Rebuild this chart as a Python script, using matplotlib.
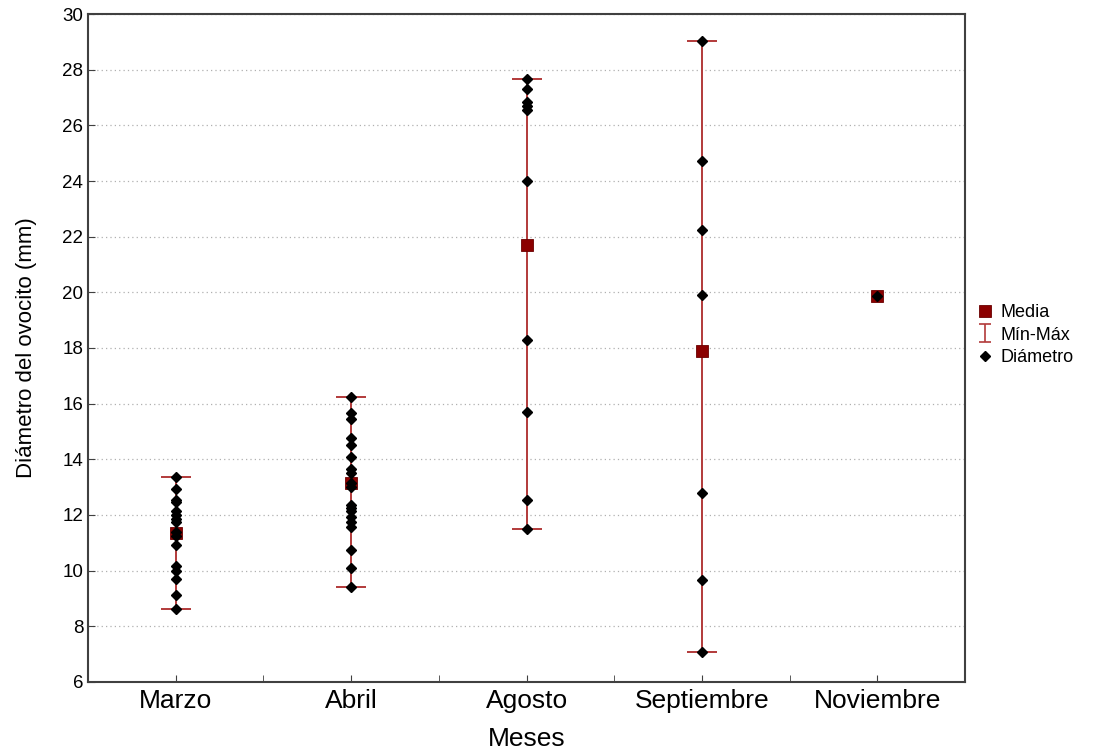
import numpy as np
import matplotlib
matplotlib.use("Agg")
import matplotlib.pyplot as plt

plt.rcParams['font.family'] = ['Liberation Sans', 'DejaVu Sans']

# months on the x axis
meses = ['Marzo', 'Abril', 'Agosto', 'Septiembre', 'Noviembre']

# oocyte diameters (mm), one list per month
marzo = [13.37, 12.92, 12.54, 12.46, 12.15, 12.0, 11.84, 11.76, 11.4, 11.24,
         10.92, 10.17, 9.99, 9.69, 9.12, 8.64]
abril = [16.23, 15.65, 15.44, 14.75, 14.51, 14.07, 13.64, 13.5, 13.14, 13.02,
         12.36, 12.24, 12.15, 11.92, 11.76, 11.58, 10.74, 10.1, 9.4]
agosto = [27.66, 27.3, 26.85, 26.7, 26.55, 24.0, 18.3, 15.7, 12.55, 11.5]
septiembre = [29.03, 24.72, 22.24, 19.9, 12.79, 9.66, 7.08]
noviembre = [19.87]

medias = [11.36, 13.15, 21.7, 17.9, 19.87]

datos = [marzo, abril, agosto, septiembre, noviembre]

fig = plt.figure(figsize=(11.02, 7.53), dpi=100)
ax = fig.add_axes([0.0799, 0.0943, 0.7958, 0.8871])

x = np.arange(len(meses))
mins = np.array([min(d) for d in datos])
maxs = np.array([max(d) for d in datos])
medias = np.array(medias)

# min-max bars (single value months get no bar)
con_rango = maxs > mins
ax.errorbar(x[con_rango], medias[con_rango],
            yerr=[medias[con_rango] - mins[con_rango], maxs[con_rango] - medias[con_rango]],
            fmt='none', ecolor='#b23a3a', elinewidth=1.4, capsize=10.5, capthick=1.4,
            zorder=2)
# small copy just for the legend
eb = ax.errorbar([np.nan], [np.nan], yerr=[[1], [1]], fmt='none', ecolor='#b23a3a',
                 elinewidth=1.2, capsize=4, capthick=1.2)

med, = ax.plot(x, medias, 's', color='#8b0000', markersize=9, markeredgecolor='#6a0000',
               markeredgewidth=0.6, linestyle='none', zorder=3)

for i, d in enumerate(datos):
    ax.plot([x[i]] * len(d), d, 'D', color='black', markersize=5.2, linestyle='none', zorder=4)
dia, = ax.plot([], [], 'D', color='black', markersize=5, linestyle='none')

ax.set_xlim(-0.5, 4.5)
ax.set_ylim(6, 30)
ax.set_yticks(np.arange(6, 31, 2))
ax.set_xticks(x)
ax.set_xticklabels(meses, fontsize=19)
ax.set_xticks(np.arange(-0.5, 4.6, 1), minor=True)
ax.tick_params(axis='y', labelsize=13.5, direction='in', length=5, color='#404040')
ax.tick_params(axis='x', which='both', direction='in', length=5, color='#404040', pad=5)

ax.yaxis.grid(True, linestyle=(0, (1, 2.5)), color='#b0b0b0', linewidth=0.9)
ax.set_axisbelow(True)
for s in ax.spines.values():
    s.set_color('#404040')
    s.set_linewidth(1.5)

ax.set_ylabel('Diámetro del ovocito (mm)', fontsize=16, labelpad=18)
ax.set_xlabel('Meses', fontsize=19, labelpad=10)

fig.legend(handles=[med, eb, dia], labels=['Media', 'Mín-Máx', 'Diámetro'],
           loc='center left', bbox_to_anchor=(0.88, 0.555), frameon=False,
           fontsize=13, handlelength=0.9, handletextpad=0.4, labelspacing=0.3,
           borderaxespad=0)

fig.savefig('out.png', dpi=100)
